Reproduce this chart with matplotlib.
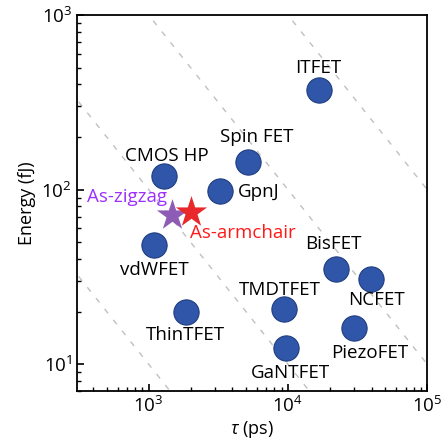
import numpy as np
import matplotlib
matplotlib.use('Agg')
import matplotlib.pyplot as plt
from matplotlib.ticker import LogLocator, FuncFormatter

plt.rcParams['font.family'] = ['Open Sans', 'DejaVu Sans']
plt.rcParams['mathtext.fontset'] = 'custom'
plt.rcParams['mathtext.rm'] = 'Open Sans'
plt.rcParams['mathtext.it'] = 'Open Sans:italic'

# benchmark devices: delay (ps) and switching energy (fJ)
devices = ['ITFET', 'Spin FET', 'GpnJ', 'CMOS HP', 'vdWFET', 'ThinTFET',
           'BisFET', 'NCFET', 'TMDTFET', 'PiezoFET', 'GaNTFET']
delay = [16600, 5180, 3270, 1300, 1100, 1840, 22000, 39800, 9360, 29600, 9680]
energy = [372, 144, 98, 119, 48, 19.9, 35, 30.7, 20.6, 16.1, 12.4]

# this work
stars = ['As-zigzag', 'As-armchair']
star_delay = [1460, 2030]
star_energy = [71.5, 74]

# constant energy-delay product lines (fJ*ps)
edp_levels = [1e4, 1e5, 1e6, 1e7]

# label offsets in points (dx, dy, ha)
offsets = {
    'ITFET': (0, 16, 'center'),
    'Spin FET': (6.5, 18, 'center'),
    'GpnJ': (13, -1, 'left'),
    'CMOS HP': (2, 15, 'center'),
    'vdWFET': (0, -18, 'center'),
    'ThinTFET': (0, -16.5, 'center'),
    'BisFET': (-1.5, 18, 'center'),
    'NCFET': (3.5, -15, 'center'),
    'TMDTFET': (-3, 14, 'center'),
    'PiezoFET': (12, -18, 'center'),
    'GaNTFET': (3, -18, 'center'),
}

fig = plt.figure(figsize=(4.44, 4.41), dpi=100)
ax = fig.add_axes([0.173, 0.113, 0.789, 0.853])

xs = np.logspace(2, 6, 200)
for c in edp_levels:
    ax.plot(xs, c / xs, color='#c0c0c0', lw=1.0, ls=(0, (4, 6)), zorder=1)

ax.scatter(delay, energy, s=330, color='#2f56a8', edgecolors='#1f3d80',
           linewidths=0.8, zorder=3)
for name, x, y in zip(devices, delay, energy):
    dx, dy, ha = offsets[name]
    ax.annotate(name, (x, y), xytext=(dx, dy), textcoords='offset points',
                ha=ha, va='center', fontsize=13.5, color='black')

ax.scatter(star_delay[0], star_energy[0], marker='*', s=560, color='#8e5cb5',
           zorder=4, linewidths=0)
ax.scatter(star_delay[1], star_energy[1], marker='*', s=560, color='#e8282b',
           zorder=4, linewidths=0)
ax.annotate(stars[0], (star_delay[0], star_energy[0]), xytext=(-32, 13),
            textcoords='offset points', ha='center', va='center',
            fontsize=13.5, color='#9b30ff')
ax.annotate(stars[1], (star_delay[1], star_energy[1]), xytext=(-1, -14.5),
            textcoords='offset points', ha='left', va='center',
            fontsize=13.5, color='#ff1a1a')

ax.set_xscale('log')
ax.set_yscale('log')
ax.set_xlim(305, 1e5)
ax.set_ylim(7.0, 1e3)

fmt = FuncFormatter(lambda v, p: r'$10^{%d}$' % round(np.log10(v)))
ax.xaxis.set_major_locator(LogLocator(base=10, numticks=10))
ax.yaxis.set_major_locator(LogLocator(base=10, numticks=10))
ax.xaxis.set_major_formatter(fmt)
ax.yaxis.set_major_formatter(fmt)
ax.tick_params(which='both', direction='in', top=False, right=False,
               labelsize=13.5)
ax.tick_params(which='major', length=5, width=1.2)
ax.tick_params(which='minor', length=3, width=1.0)
for s in ax.spines.values():
    s.set_linewidth(1.3)

ax.set_xlabel(r'$\tau$ (ps)', fontsize=13, labelpad=2)
ax.set_ylabel('Energy (fJ)', fontsize=13, labelpad=4)

fig.savefig('out.png', dpi=100)
